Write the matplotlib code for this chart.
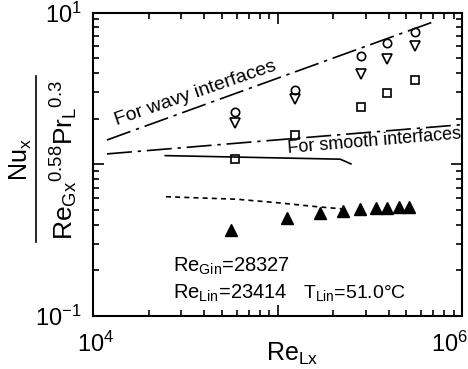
import matplotlib
matplotlib.use("Agg")
import matplotlib.pyplot as plt
import matplotlib.transforms as mtrans
import numpy as np

plt.rcParams['font.family'] = ['Liberation Sans', 'DejaVu Sans']
plt.rcParams['mathtext.fontset'] = 'custom'
plt.rcParams['mathtext.rm'] = 'Liberation Sans'
plt.rcParams['mathtext.it'] = 'Liberation Sans'

# data
re_open = [59000, 124000, 284000, 392000, 553000]
nu_circle = [2.22, 3.09, 5.13, 6.28, 7.43]
nu_tri_down = [1.88, 2.68, 3.92, 4.93, 6.06]
nu_square = [1.08, 1.56, 2.40, 2.94, 3.60]

re_filled = [56200, 112500, 169000, 226000, 281000, 342000, 392000, 454000, 514000]
nu_filled = [0.369, 0.444, 0.475, 0.494, 0.505, 0.513, 0.516, 0.523, 0.523]

wavy_x = [11900, 731000]
wavy_y = [1.445, 8.85]
smooth_x = [11900, 980000]
smooth_y = [1.17, 1.82]
solid_x = [24660, 219000, 250000]
solid_y = [1.14, 1.08, 1.005]
dash_x = [24870, 60300, 99400, 163700, 238000]
dash_y = [0.611, 0.588, 0.558, 0.525, 0.505]

fig = plt.figure(figsize=(4.68, 3.69), dpi=100)
ax = fig.add_axes([93/468, 1-316/369, 369/468, 303.5/369])
ax.set_xscale('log')
ax.set_yscale('log')
ax.set_xlim(1e4, 1e6)
ax.set_ylim(0.1, 10)

dd = (0, (15, 3.5, 2, 3.5))
ax.plot(wavy_x, wavy_y, color='k', lw=1.2, linestyle=dd)
ax.plot(smooth_x, smooth_y, color='k', lw=1.2, linestyle=dd)
ax.plot(solid_x, solid_y, color='k', lw=1.2)
ax.plot(dash_x, dash_y, color='k', lw=1.2, linestyle=(0, (3, 2.5)))

ax.plot(re_open, nu_circle, 'o', mfc='none', mec='k', ms=6, mew=1.2)
ax.plot(re_open, nu_tri_down, 'v', mfc='none', mec='k', ms=7, mew=1.2)
ax.plot(re_open, nu_square, 's', mfc='none', mec='k', ms=5.5, mew=1.2)
ax.plot(re_filled, nu_filled, '^', color='k', ms=8)

ax.text(1.35e4, 1.80, 'For wavy interfaces', rotation=19, fontsize=14,
        ha='left', va='baseline', rotation_mode='anchor')
ax.text(1.14e5, 1.187, 'For smooth interfaces', rotation=4.8, fontsize=13,
        ha='left', va='baseline', rotation_mode='anchor')

ax.text(2.71e4, 0.211, r'$\mathrm{Re_{Gin}}$=28327', fontsize=14.5, va='center')
ax.text(2.71e4, 0.141, r'$\mathrm{Re_{Lin}}$=23414', fontsize=14.5, va='center')
ax.text(1.38e5, 0.141, r'$\mathrm{T_{Lin}}$=51.0°C', fontsize=14, va='center')

ax.tick_params(which='both', direction='in', top=True, right=True, width=1.2)
ax.tick_params(which='major', length=8)
ax.tick_params(which='minor', length=4)
ax.set_xticks([1e4, 1e5, 1e6])
ax.set_xticklabels([r'$\mathrm{10^4}$', '', r'$\mathrm{10^6}$'], fontsize=17)
ax.set_yticks([0.1, 1, 10])
ax.set_yticklabels([r'$\mathrm{10^{-1}}$', '', r'$\mathrm{10^1}$'], fontsize=17)
ax.tick_params(axis='x', pad=11)
ax.tick_params(axis='y', pad=8)
xl = ax.get_xticklabels()
xl[0].set_transform(xl[0].get_transform() + mtrans.ScaledTranslation(3/100, 0, fig.dpi_scale_trans))
xl[2].set_ha('right')
xl[2].set_transform(xl[2].get_transform() + mtrans.ScaledTranslation(6/100, 0, fig.dpi_scale_trans))
for s in ax.spines.values():
    s.set_linewidth(1.5)

fig.text(292/468, 1-354/369, r'$\mathrm{Re_{Lx}}$', fontsize=18, ha='center', va='center')

# y label drawn as a fraction
fig.text(21/468, 1-160/369, r'$\mathrm{Nu_x}$', rotation=90, fontsize=18,
         ha='center', va='center')
fig.add_artist(plt.Line2D([36/468, 36/468], [1-242/369, 1-76/369], color='k', lw=1.2))
fig.text(64/468, 1-160/369, r'${\mathrm{Re_{Gx}}}^{0.58}{\mathrm{Pr_L}}^{0.3}$', rotation=90,
         fontsize=19, ha='center', va='center')

fig.savefig('out.png', dpi=100)
